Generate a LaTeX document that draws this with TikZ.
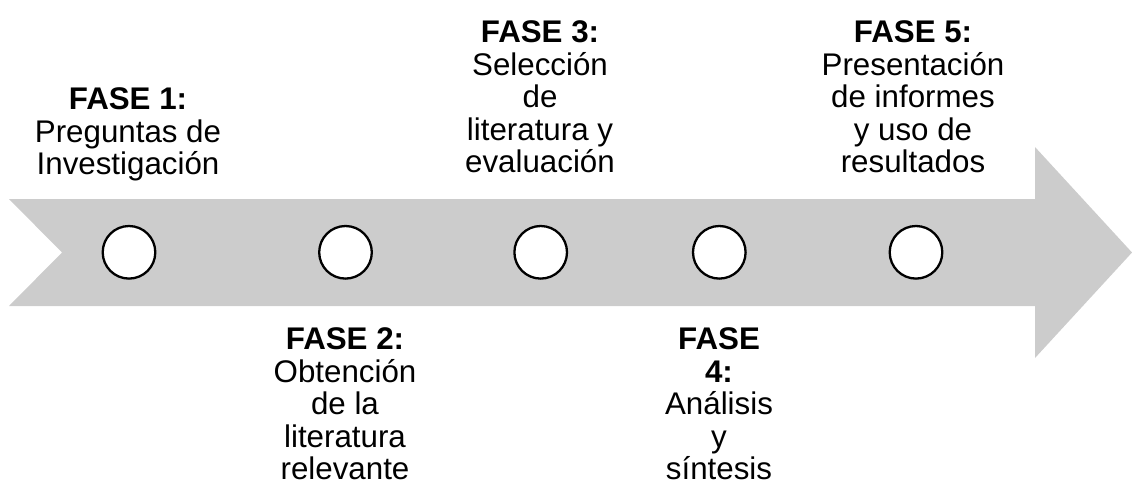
\documentclass[tikz,border=0pt]{standalone}
\usepackage{fontspec}
\setmainfont{Liberation Sans}
\definecolor{arrowgray}{HTML}{CCCCCC}
\begin{document}
\begin{tikzpicture}[x=1pt,y=-1pt,
  dot/.style={circle,draw=black,line width=2.3pt,fill=white,minimum size=52.6pt,inner sep=0pt},
  phase/.style={align=center,inner sep=0pt,font=\fontsize{31.3}{32.5}\selectfont}]
\useasboundingbox (0,0) rectangle (1132,485);
% big arrow
\fill[arrowgray] (9,199) -- (1035,199) -- (1035,147) -- (1132,252.5) -- (1035,358)
  -- (1035,306) -- (9,306) -- (62,252.5) -- cycle;
% circles
\node[dot] (c1) at (129,252.3) {};
\node[dot] (c2) at (345.5,252.3) {};
\node[dot] (c3) at (540.7,252.3) {};
\node[dot] (c4) at (719.3,252.3) {};
\node[dot] (c5) at (916,252.3) {};
% labels
\node[phase,anchor=north] (t1) at (128,87.5) {\textbf{FASE 1:}\\Preguntas de\\Investigación};
\node[phase,anchor=north] (t2) at (345,327.5) {\textbf{FASE 2:}\\Obtención\\de la\\literatura\\relevante};
\node[phase,anchor=north] (t3) at (540,20.5) {\textbf{FASE 3:}\\Selección\\de\\literatura y\\evaluación};
\node[phase,anchor=north] (t4) at (719,327.5) {\textbf{FASE}\\\textbf{4:}\\Análisis\\y\\síntesis};
\node[phase,anchor=north] (t5) at (913,20.5) {\textbf{FASE 5:}\\Presentación\\de informes\\y uso de\\resultados};
\end{tikzpicture}
\end{document}
